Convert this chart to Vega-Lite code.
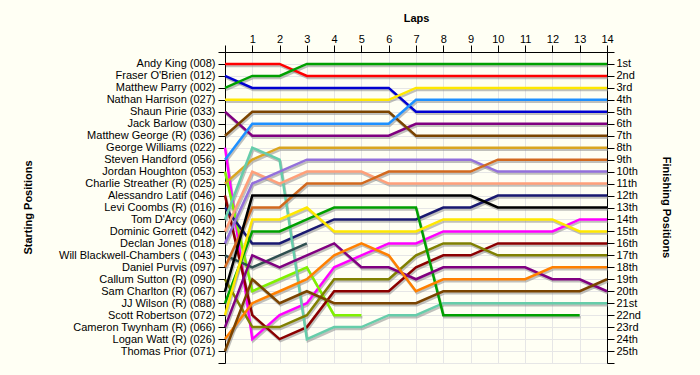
{
"$schema": "https://vega.github.io/schema/vega-lite/v6.json",
"width": 382, "height": 311,
"autosize": {"type": "none"},
"padding": {"left": 225, "top": 52, "right": 93, "bottom": 12},
"background": "#FFFFF4",
"config": {"view": {"stroke": null, "fill": "#FFFFF4"},
  "axis": {"labelFont": "Liberation Sans", "labelFontSize": 11, "labelColor": "#000", "titleFont": "Liberation Sans", "titleFontSize": 11, "titleFontWeight": "bold", "titleColor": "#000", "domainColor": "#000", "tickColor": "#000", "gridColor": "#E6E6E6", "gridWidth": 1}},
"data": {"values": [
{"d":"008","l":0,"p":1},{"d":"008","l":1,"p":1},{"d":"008","l":2,"p":1},{"d":"008","l":3,"p":2},{"d":"008","l":4,"p":2},{"d":"008","l":5,"p":2},{"d":"008","l":6,"p":2},{"d":"008","l":7,"p":2},{"d":"008","l":8,"p":2},{"d":"008","l":9,"p":2},{"d":"008","l":10,"p":2},{"d":"008","l":11,"p":2},{"d":"008","l":12,"p":2},{"d":"008","l":13,"p":2},{"d":"008","l":14,"p":2},
{"d":"012","l":0,"p":2},{"d":"012","l":1,"p":3},{"d":"012","l":2,"p":3},{"d":"012","l":3,"p":3},{"d":"012","l":4,"p":3},{"d":"012","l":5,"p":3},{"d":"012","l":6,"p":3},{"d":"012","l":7,"p":5},{"d":"012","l":8,"p":5},{"d":"012","l":9,"p":5},{"d":"012","l":10,"p":5},{"d":"012","l":11,"p":5},{"d":"012","l":12,"p":5},{"d":"012","l":13,"p":5},{"d":"012","l":14,"p":5},
{"d":"002","l":0,"p":3},{"d":"002","l":1,"p":2},{"d":"002","l":2,"p":2},{"d":"002","l":3,"p":1},{"d":"002","l":4,"p":1},{"d":"002","l":5,"p":1},{"d":"002","l":6,"p":1},{"d":"002","l":7,"p":1},{"d":"002","l":8,"p":1},{"d":"002","l":9,"p":1},{"d":"002","l":10,"p":1},{"d":"002","l":11,"p":1},{"d":"002","l":12,"p":1},{"d":"002","l":13,"p":1},{"d":"002","l":14,"p":1},
{"d":"027","l":0,"p":4},{"d":"027","l":1,"p":4},{"d":"027","l":2,"p":4},{"d":"027","l":3,"p":4},{"d":"027","l":4,"p":4},{"d":"027","l":5,"p":4},{"d":"027","l":6,"p":4},{"d":"027","l":7,"p":3},{"d":"027","l":8,"p":3},{"d":"027","l":9,"p":3},{"d":"027","l":10,"p":3},{"d":"027","l":11,"p":3},{"d":"027","l":12,"p":3},{"d":"027","l":13,"p":3},{"d":"027","l":14,"p":3},
{"d":"033","l":0,"p":5},{"d":"033","l":1,"p":7},{"d":"033","l":2,"p":7},{"d":"033","l":3,"p":7},{"d":"033","l":4,"p":7},{"d":"033","l":5,"p":7},{"d":"033","l":6,"p":7},{"d":"033","l":7,"p":6},{"d":"033","l":8,"p":6},{"d":"033","l":9,"p":6},{"d":"033","l":10,"p":6},{"d":"033","l":11,"p":6},{"d":"033","l":12,"p":6},{"d":"033","l":13,"p":6},{"d":"033","l":14,"p":6},
{"d":"036","l":0,"p":7},{"d":"036","l":1,"p":5},{"d":"036","l":2,"p":5},{"d":"036","l":3,"p":5},{"d":"036","l":4,"p":5},{"d":"036","l":5,"p":5},{"d":"036","l":6,"p":5},{"d":"036","l":7,"p":7},{"d":"036","l":8,"p":7},{"d":"036","l":9,"p":7},{"d":"036","l":10,"p":7},{"d":"036","l":11,"p":7},{"d":"036","l":12,"p":7},{"d":"036","l":13,"p":7},{"d":"036","l":14,"p":7},
{"d":"022","l":0,"p":8},{"d":"022","l":1,"p":24},{"d":"022","l":2,"p":22},{"d":"022","l":3,"p":21},{"d":"022","l":4,"p":18},{"d":"022","l":5,"p":17},{"d":"022","l":6,"p":16},{"d":"022","l":7,"p":16},{"d":"022","l":8,"p":15},{"d":"022","l":9,"p":15},{"d":"022","l":10,"p":15},{"d":"022","l":11,"p":15},{"d":"022","l":12,"p":15},{"d":"022","l":13,"p":14},{"d":"022","l":14,"p":14},
{"d":"056","l":0,"p":9},{"d":"056","l":1,"p":6},{"d":"056","l":2,"p":6},{"d":"056","l":3,"p":6},{"d":"056","l":4,"p":6},{"d":"056","l":5,"p":6},{"d":"056","l":6,"p":6},{"d":"056","l":7,"p":4},{"d":"056","l":8,"p":4},{"d":"056","l":9,"p":4},{"d":"056","l":10,"p":4},{"d":"056","l":11,"p":4},{"d":"056","l":12,"p":4},{"d":"056","l":13,"p":4},{"d":"056","l":14,"p":4},
{"d":"053","l":0,"p":10},{"d":"053","l":1,"p":20},{"d":"053","l":2,"p":19},{"d":"053","l":3,"p":18},{"d":"053","l":4,"p":22},{"d":"053","l":5,"p":22},
{"d":"025","l":0,"p":11},{"d":"025","l":1,"p":9},{"d":"025","l":2,"p":8},{"d":"025","l":3,"p":8},{"d":"025","l":4,"p":8},{"d":"025","l":5,"p":8},{"d":"025","l":6,"p":8},{"d":"025","l":7,"p":8},{"d":"025","l":8,"p":8},{"d":"025","l":9,"p":8},{"d":"025","l":10,"p":8},{"d":"025","l":11,"p":8},{"d":"025","l":12,"p":8},{"d":"025","l":13,"p":8},{"d":"025","l":14,"p":8},
{"d":"046","l":0,"p":12},{"d":"046","l":1,"p":22},{"d":"046","l":2,"p":24},{"d":"046","l":3,"p":23},{"d":"046","l":4,"p":20},{"d":"046","l":5,"p":20},{"d":"046","l":6,"p":20},{"d":"046","l":7,"p":18},{"d":"046","l":8,"p":17},{"d":"046","l":9,"p":17},{"d":"046","l":10,"p":16},{"d":"046","l":11,"p":16},{"d":"046","l":12,"p":16},{"d":"046","l":13,"p":16},{"d":"046","l":14,"p":16},
{"d":"016","l":0,"p":13},{"d":"016","l":1,"p":16},{"d":"016","l":2,"p":16},{"d":"016","l":3,"p":15},{"d":"016","l":4,"p":14},{"d":"016","l":5,"p":14},{"d":"016","l":6,"p":14},{"d":"016","l":7,"p":14},{"d":"016","l":8,"p":13},{"d":"016","l":9,"p":13},{"d":"016","l":10,"p":12},{"d":"016","l":11,"p":12},{"d":"016","l":12,"p":12},{"d":"016","l":13,"p":12},{"d":"016","l":14,"p":12},
{"d":"060","l":0,"p":14},{"d":"060","l":1,"p":8},{"d":"060","l":2,"p":9},{"d":"060","l":3,"p":24},{"d":"060","l":4,"p":23},{"d":"060","l":5,"p":23},{"d":"060","l":6,"p":22},{"d":"060","l":7,"p":22},{"d":"060","l":8,"p":21},{"d":"060","l":9,"p":21},{"d":"060","l":10,"p":21},{"d":"060","l":11,"p":21},{"d":"060","l":12,"p":21},{"d":"060","l":13,"p":21},{"d":"060","l":14,"p":21},
{"d":"042","l":0,"p":15},{"d":"042","l":1,"p":10},{"d":"042","l":2,"p":11},{"d":"042","l":3,"p":10},{"d":"042","l":4,"p":10},{"d":"042","l":5,"p":10},{"d":"042","l":6,"p":11},{"d":"042","l":7,"p":11},{"d":"042","l":8,"p":11},{"d":"042","l":9,"p":11},{"d":"042","l":10,"p":11},{"d":"042","l":11,"p":11},{"d":"042","l":12,"p":11},{"d":"042","l":13,"p":11},{"d":"042","l":14,"p":11},
{"d":"018","l":0,"p":16},{"d":"018","l":1,"p":11},{"d":"018","l":2,"p":10},{"d":"018","l":3,"p":9},{"d":"018","l":4,"p":9},{"d":"018","l":5,"p":9},{"d":"018","l":6,"p":9},{"d":"018","l":7,"p":9},{"d":"018","l":8,"p":9},{"d":"018","l":9,"p":9},{"d":"018","l":10,"p":10},{"d":"018","l":11,"p":10},{"d":"018","l":12,"p":10},{"d":"018","l":13,"p":10},{"d":"018","l":14,"p":10},
{"d":"043","l":0,"p":17},{"d":"043","l":1,"p":18},{"d":"043","l":2,"p":17},{"d":"043","l":3,"p":16},
{"d":"097","l":0,"p":18},{"d":"097","l":1,"p":13},{"d":"097","l":2,"p":13},{"d":"097","l":3,"p":11},{"d":"097","l":4,"p":11},{"d":"097","l":5,"p":11},{"d":"097","l":6,"p":10},{"d":"097","l":7,"p":10},{"d":"097","l":8,"p":10},{"d":"097","l":9,"p":10},{"d":"097","l":10,"p":9},{"d":"097","l":11,"p":9},{"d":"097","l":12,"p":9},{"d":"097","l":13,"p":9},{"d":"097","l":14,"p":9},
{"d":"090","l":0,"p":19},{"d":"090","l":1,"p":23},{"d":"090","l":2,"p":23},{"d":"090","l":3,"p":22},{"d":"090","l":4,"p":19},{"d":"090","l":5,"p":19},{"d":"090","l":6,"p":19},{"d":"090","l":7,"p":17},{"d":"090","l":8,"p":16},{"d":"090","l":9,"p":16},{"d":"090","l":10,"p":17},{"d":"090","l":11,"p":17},{"d":"090","l":12,"p":17},{"d":"090","l":13,"p":17},{"d":"090","l":14,"p":17},
{"d":"067","l":0,"p":20},{"d":"067","l":1,"p":12},{"d":"067","l":2,"p":12},{"d":"067","l":3,"p":12},{"d":"067","l":4,"p":12},{"d":"067","l":5,"p":12},{"d":"067","l":6,"p":12},{"d":"067","l":7,"p":12},{"d":"067","l":8,"p":12},{"d":"067","l":9,"p":12},{"d":"067","l":10,"p":13},{"d":"067","l":11,"p":13},{"d":"067","l":12,"p":13},{"d":"067","l":13,"p":13},{"d":"067","l":14,"p":13},
{"d":"088","l":0,"p":21},{"d":"088","l":1,"p":15},{"d":"088","l":2,"p":15},{"d":"088","l":3,"p":14},{"d":"088","l":4,"p":13},{"d":"088","l":5,"p":13},{"d":"088","l":6,"p":13},{"d":"088","l":7,"p":13},{"d":"088","l":8,"p":22},{"d":"088","l":9,"p":22},{"d":"088","l":10,"p":22},{"d":"088","l":11,"p":22},{"d":"088","l":12,"p":22},{"d":"088","l":13,"p":22},
{"d":"072","l":0,"p":22},{"d":"072","l":1,"p":14},{"d":"072","l":2,"p":14},{"d":"072","l":3,"p":13},{"d":"072","l":4,"p":15},{"d":"072","l":5,"p":15},{"d":"072","l":6,"p":15},{"d":"072","l":7,"p":15},{"d":"072","l":8,"p":14},{"d":"072","l":9,"p":14},{"d":"072","l":10,"p":14},{"d":"072","l":11,"p":14},{"d":"072","l":12,"p":14},{"d":"072","l":13,"p":15},{"d":"072","l":14,"p":15},
{"d":"066","l":0,"p":23},{"d":"066","l":1,"p":17},{"d":"066","l":2,"p":18},{"d":"066","l":3,"p":17},{"d":"066","l":4,"p":16},{"d":"066","l":5,"p":18},{"d":"066","l":6,"p":18},{"d":"066","l":7,"p":19},{"d":"066","l":8,"p":18},{"d":"066","l":9,"p":18},{"d":"066","l":10,"p":18},{"d":"066","l":11,"p":18},{"d":"066","l":12,"p":19},{"d":"066","l":13,"p":19},{"d":"066","l":14,"p":20},
{"d":"026","l":0,"p":24},{"d":"026","l":1,"p":21},{"d":"026","l":2,"p":20},{"d":"026","l":3,"p":19},{"d":"026","l":4,"p":17},{"d":"026","l":5,"p":16},{"d":"026","l":6,"p":17},{"d":"026","l":7,"p":20},{"d":"026","l":8,"p":19},{"d":"026","l":9,"p":19},{"d":"026","l":10,"p":19},{"d":"026","l":11,"p":19},{"d":"026","l":12,"p":18},{"d":"026","l":13,"p":18},{"d":"026","l":14,"p":18},
{"d":"071","l":0,"p":25},{"d":"071","l":1,"p":19},{"d":"071","l":2,"p":21},{"d":"071","l":3,"p":20},{"d":"071","l":4,"p":21},{"d":"071","l":5,"p":21},{"d":"071","l":6,"p":21},{"d":"071","l":7,"p":21},{"d":"071","l":8,"p":20},{"d":"071","l":9,"p":20},{"d":"071","l":10,"p":20},{"d":"071","l":11,"p":20},{"d":"071","l":12,"p":20},{"d":"071","l":13,"p":20},{"d":"071","l":14,"p":19}
]},
"layer": [
 {"mark": {"type": "line", "strokeWidth": 2.5, "color": "#8c8c8c", "opacity": 0.55, "xOffset": 1, "yOffset": 2},
  "encoding": {
   "x": {"field": "l", "type": "quantitative", "scale": {"domain": [0, 14], "nice": false, "zero": false}, "axis": null},
   "y": {"field": "p", "type": "quantitative", "scale": {"domain": [0, 26], "reverse": true, "nice": false, "zero": false},
     "axis": {"orient": "left", "values": [0,1,2,3,4,5,6,7,8,9,10,11,12,13,14,15,16,17,18,19,20,21,22,23,24,25,26],
       "labelExpr": "['','Andy King (008)',\"Fraser O'Brien (012)\",'Matthew Parry (002)','Nathan Harrison (027)','Shaun Pirie (033)','Jack Barlow (030)','Matthew George (R) (036)','George Williams (022)','Steven Handford (056)','Jordan Houghton (053)','Charlie Streather (R) (025)','Alessandro Latif (046)','Levi Coombs  (R) (016)',\"Tom D'Arcy (060)\",'Dominic Gorrett (042)','Declan Jones (018)','Will Blackwell-Chambers ( (043)','Daniel Purvis (097)','Callum Sutton  (R) (090)','Sam Charlton  (R) (067)','JJ Wilson  (R) (088)','Scott Robertson (072)','Cameron Twynham (R) (066)','Logan Watt (R) (026)','Thomas Prior (071)',''][datum.value]",
       "tickSize": 7, "labelPadding": 3, "grid": true, "labelOverlap": false, "labelFlush": false, "labelBound": false,
       "title": "Starting Positions", "titleX": -197, "titleY": 155, "titleAngle": -90, "titleBaseline": "middle", "titleAlign": "center"}},
   "detail": {"field": "d"},
   "order": {"field": "l"}
  }},
 {"mark": {"type": "line", "strokeWidth": 2.5},
  "encoding": {
   "x": {"field": "l", "type": "quantitative", "scale": {"domain": [0, 14], "nice": false, "zero": false},
     "axis": {"orient": "top", "values": [0,1,2,3,4,5,6,7,8,9,10,11,12,13,14], "labelExpr": "datum.value == 0 ? '' : datum.label", "tickSize": 7, "labelPadding": 1, "grid": true, "labelFlush": false, "labelOverlap": false, "title": "Laps", "titleY": -34, "titleBaseline": "middle"}},
   "y": {"field": "p", "type": "quantitative", "scale": {"domain": [0, 26], "reverse": true, "nice": false, "zero": false},
     "axis": {"orient": "right", "values": [0,1,2,3,4,5,6,7,8,9,10,11,12,13,14,15,16,17,18,19,20,21,22,23,24,25,26],
       "labelExpr": "['','1st','2nd','3rd','4th','5th','6th','7th','8th','9th','10th','11th','12th','13th','14th','15th','16th','17th','18th','19th','20th','21st','22nd','23rd','24th','25th',''][datum.value]",
       "tickSize": 7, "labelPadding": 2, "grid": false, "labelOverlap": false, "labelFlush": false, "labelBound": false,
       "title": "Finishing Positions", "titleX": 58, "titleY": 155, "titleAngle": 90, "titleBaseline": "middle", "titleAlign": "center"}},
   "color": {"field": "d", "type": "nominal", "legend": null,
     "scale": {"domain": ["008","012","002","027","033","036","022","056","053","025","046","016","060","042","018","043","097","090","067","088","072","066","026","071"],
       "range": ["#FF0000","#0000D0","#00A000","#FFE800","#800080","#7B4400","#FF00FF","#1E90FF","#80F000","#DAA520","#8B0000","#191970","#66CDAA","#FFA07A","#9370DB","#2F4F4F","#D2691E","#808000","#000000","#00A000","#FFE800","#800080","#FF8000","#7B4400"]}},
   "order": {"field": "l"}
  }}
],
"resolve": {"axis": {"x": "independent", "y": "independent"}}
}
